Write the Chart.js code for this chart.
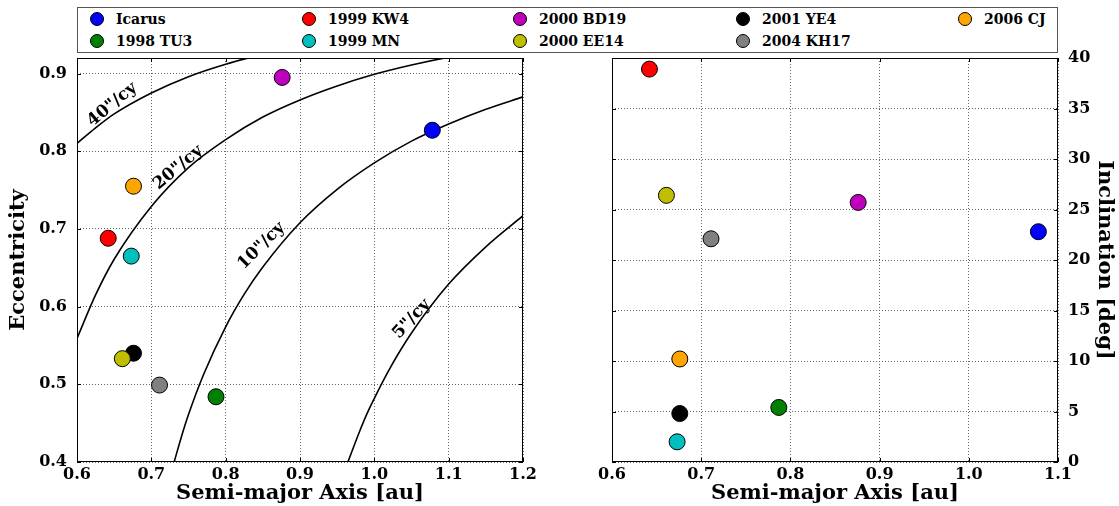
<!DOCTYPE html>
<html>
<head>
<meta charset="utf-8">
<script src="https://cdn.jsdelivr.net/npm/chart.js@4"></script>
<style>
body{margin:0;background:#fff;width:1119px;height:506px;overflow:hidden;position:relative;font-family:"DejaVu Serif",serif}
#leftBox{position:absolute;left:0;top:0;width:560px;height:506px}
#rightBox{position:absolute;left:560px;top:0;width:559px;height:506px}
#legend{position:absolute;left:77px;top:7px;width:979px;height:44px;border:1px solid #555;box-sizing:content-box;background:#fff}
.item{position:absolute;height:20px;font-weight:bold;font-size:14px;line-height:20px;white-space:nowrap}
.dot{position:absolute;width:14px;height:14px;border-radius:50%;border:1px solid #000;box-sizing:border-box;top:3px}
.lbl{position:absolute;left:26px;top:0}
</style>
</head>
<body>
<div id="leftBox"><canvas id="leftChart"></canvas></div>
<div id="rightBox"><canvas id="rightChart"></canvas></div>
<div id="legend"></div>
<script>
'use strict'
// asteroids
let names=['Icarus','1999 KW4','2000 BD19','2001 YE4','2006 CJ','1998 TU3','1999 MN','2000 EE14','2004 KH17']
let colors=['#0000ff','#ff0000','#bf00bf','#000000','#ffa500','#008000','#00bfbf','#bfbf00','#808080']
let semiMajor=[1.078,0.642,0.876,0.676,0.676,0.787,0.673,0.661,0.711]
let eccentricity=[0.827,0.688,0.895,0.540,0.755,0.484,0.665,0.533,0.499]
let inclination=[22.8,38.9,25.7,4.8,10.2,5.4,2.0,26.4,22.1]

// precession curves
let rateLabels=['40"/cy','20"/cy','10"/cy','5"/cy']
let curveA=[
  [0.60,0.625,0.65,0.70,0.75,0.80,0.85],
  [0.60,0.625,0.65,0.70,0.75,0.80,0.85,0.90,0.95,1.00,1.05,1.10,1.15],
  [0.7307,0.74,0.75,0.77,0.80,0.825,0.85,0.90,0.95,1.00,1.05,1.10,1.15,1.20],
  [0.9645,0.98,0.99,1.00,1.02,1.05,1.10,1.15,1.20]
]
let curveE=[
  [0.810,0.830,0.848,0.875,0.896,0.912,0.925],
  [0.559,0.615,0.661,0.729,0.779,0.815,0.844,0.866,0.884,0.899,0.911,0.921,0.930],
  [0.400,0.431,0.461,0.512,0.574,0.616,0.651,0.708,0.751,0.785,0.813,0.835,0.854,0.870],
  [0.400,0.439,0.462,0.482,0.519,0.566,0.629,0.677,0.717]
]
// label anchors (data coords) and angles
let labelA=[0.6475,0.7362,0.8481,1.0503]
let labelE=[0.860,0.779,0.678,0.584]
let labelAngle=[-40,-40,-45,-47]

let leftXTicks=[0.6,0.7,0.8,0.9,1.0,1.1,1.2]
let leftYTicks=[0.4,0.5,0.6,0.7,0.8,0.9]
let rightXTicks=[0.6,0.7,0.8,0.9,1.0,1.1]
let rightYTicks=[0,5,10,15,20,25,30,35,40]

Chart.defaults.font.family='"DejaVu Serif", serif'
Chart.defaults.font.weight='bold'
Chart.defaults.color='#000'

// legend (column layout like the original)
let legendX=[12,224,435,658,880]
let legEl=document.getElementById('legend')
for(let i=0;i<names.length;i++){
  let it=document.createElement('div')
  it.className='item'
  it.style.left=legendX[i%5]+'px'
  it.style.top=(i<5?1:23)+'px'
  let d=document.createElement('div')
  d.className='dot'
  d.style.background=colors[i]
  let t=document.createElement('div')
  t.className='lbl'
  t.textContent=names[i]
  it.appendChild(d);it.appendChild(t)
  legEl.appendChild(it)
}

let framePlugin={
  id:'frame',
  afterDatasetsDraw(chart){
    let a=chart.chartArea,ctx=chart.ctx
    ctx.save()
    ctx.strokeStyle='#000'
    ctx.lineWidth=1
    ctx.strokeRect(a.left+0.5,a.top+0.5,a.right-a.left-1,a.bottom-a.top-1)
    let xs=chart.scales.x,ys=chart.scales.y
    ctx.beginPath()
    xs.ticks.forEach(t=>{
      let p=Math.round(xs.getPixelForValue(t.value))+0.5
      ctx.moveTo(p,a.bottom);ctx.lineTo(p,a.bottom-4)
      ctx.moveTo(p,a.top);ctx.lineTo(p,a.top+4)
    })
    ys.ticks.forEach(t=>{
      let p=Math.round(ys.getPixelForValue(t.value))+0.5
      ctx.moveTo(a.left,p);ctx.lineTo(a.left+4,p)
      ctx.moveTo(a.right,p);ctx.lineTo(a.right-4,p)
    })
    ctx.stroke()
    ctx.restore()
  }
}

let curveLabelPlugin={
  id:'curveLabels',
  afterDatasetsDraw(chart){
    if(chart.canvas.id!=='leftChart') return
    let ctx=chart.ctx
    ctx.save()
    ctx.fillStyle='#000'
    ctx.font='bold 17px "DejaVu Serif", serif'
    ctx.textAlign='center'
    ctx.textBaseline='middle'
    for(let i=0;i<rateLabels.length;i++){
      let px=chart.scales.x.getPixelForValue(labelA[i])
      let py=chart.scales.y.getPixelForValue(labelE[i])
      ctx.save()
      ctx.translate(px,py)
      ctx.rotate(labelAngle[i]*Math.PI/180)
      ctx.fillText(rateLabels[i],0,0)
      ctx.restore()
    }
    ctx.restore()
  }
}

function gridOpts(){
  return {color:'#666',lineWidth:1,drawTicks:false}
}

function scatterSet(yVals){
  return {
    type:'scatter',
    data:semiMajor.map((a,i)=>({x:a,y:yVals[i]})),
    pointBackgroundColor:colors,
    pointBorderColor:'#000',
    pointBorderWidth:1,
    pointRadius:8,
    pointHoverRadius:8,
    order:0
  }
}

let leftSets=[scatterSet(eccentricity)]
for(let i=0;i<curveA.length;i++){
  leftSets.push({
    type:'line',
    data:curveA[i].map((a,j)=>({x:a,y:curveE[i][j]})),
    borderColor:'#000',
    borderWidth:1.6,
    pointRadius:0,
    fill:false,
    cubicInterpolationMode:'monotone',
    order:1
  })
}

new Chart(document.getElementById('leftChart'),{
  type:'scatter',
  data:{datasets:leftSets},
  plugins:[framePlugin,curveLabelPlugin],
  options:{
    responsive:true,maintainAspectRatio:false,animation:false,
    layout:{padding:{top:58,right:37,left:0,bottom:0}},
    plugins:{legend:{display:false},tooltip:{enabled:false}},
    scales:{
      x:{
        type:'linear',min:0.6,max:1.2,
        afterBuildTicks:ax=>{ax.ticks=leftXTicks.map(v=>({value:v}))},
        afterFit:ax=>{ax.height=44},
        grid:gridOpts(),
        border:{display:false,dash:[1,2]},
        ticks:{padding:3,font:{size:16},callback:v=>v.toFixed(1),maxRotation:0},
        title:{display:true,text:'Semi-major Axis [au]',font:{size:21},padding:{top:0,bottom:0}}
      },
      y:{
        type:'linear',min:0.4,max:0.92,
        afterBuildTicks:ax=>{ax.ticks=leftYTicks.map(v=>({value:v}))},
        afterFit:ax=>{ax.width=77},
        grid:gridOpts(),
        border:{display:false,dash:[1,2]},
        ticks:{padding:10,font:{size:16},callback:v=>v.toFixed(1)},
        title:{display:true,text:'Eccentricity',font:{size:21},padding:{top:6,bottom:0}}
      }
    }
  }
})

new Chart(document.getElementById('rightChart'),{
  type:'scatter',
  data:{datasets:[scatterSet(inclination)]},
  plugins:[framePlugin],
  options:{
    responsive:true,maintainAspectRatio:false,animation:false,
    layout:{padding:{top:58,right:0,left:52,bottom:0}},
    plugins:{legend:{display:false},tooltip:{enabled:false}},
    scales:{
      x:{
        type:'linear',min:0.6,max:1.1,
        afterBuildTicks:ax=>{ax.ticks=rightXTicks.map(v=>({value:v}))},
        afterFit:ax=>{ax.height=44},
        grid:gridOpts(),
        border:{display:false,dash:[1,2]},
        ticks:{padding:3,font:{size:16},callback:v=>v.toFixed(1),maxRotation:0},
        title:{display:true,text:'Semi-major Axis [au]',font:{size:21},padding:{top:0,bottom:0}}
      },
      y:{
        type:'linear',position:'right',min:0,max:40,
        afterBuildTicks:ax=>{ax.ticks=rightYTicks.map(v=>({value:v}))},
        afterFit:ax=>{ax.width=61},
        grid:gridOpts(),
        border:{display:false,dash:[1,2]},
        ticks:{padding:10,font:{size:16}},
        title:{display:true,text:'Inclination [deg]',font:{size:21},padding:{top:2,bottom:0}}
      }
    }
  }
})
</script>
</body>
</html>
